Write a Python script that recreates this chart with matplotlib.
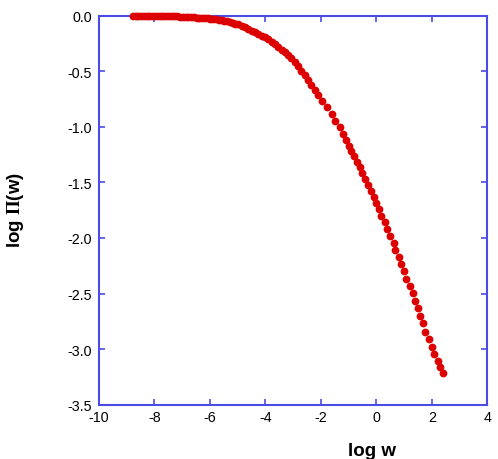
import matplotlib
matplotlib.use("Agg")
import matplotlib.pyplot as plt

plt.rcParams['font.family'] = ['Liberation Sans', 'DejaVu Sans']
plt.rcParams['mathtext.fontset'] = 'stix'
plt.rcParams['axes.unicode_minus'] = False

# log w values of the points
log_w = [
    -8.78, -8.68, -8.58, -8.48, -8.38, -8.28, -8.18, -8.08, -7.98, -7.88,
    -7.78, -7.68, -7.58, -7.48, -7.38, -7.28, -7.18, -7.08, -6.98, -6.88,
    -6.78, -6.68, -6.58, -6.48, -6.38, -6.28, -6.18, -6.08, -5.98, -5.88,
    -5.78, -5.68, -5.58, -5.48, -5.38, -5.28, -5.18, -5.08, -4.98,
    -4.86, -4.74, -4.62, -4.50, -4.38, -4.26, -4.14, -4.02, -3.90, -3.78,
    -3.66, -3.54, -3.42, -3.30, -3.18, -3.06, -2.94, -2.82, -2.70, -2.58,
    -2.46, -2.34, -2.22, -2.10,
    -1.954, -1.775, -1.595, -1.475, -1.319, -1.199, -1.079, -0.995, -0.899,
    -0.791, -0.695, -0.600, -0.516, -0.396, -0.312, -0.192, -0.096, 0.000,
    0.108, 0.180, 0.300, 0.384, 0.504, 0.624, 0.683, 0.803, 0.887, 1.007,
    1.079, 1.199, 1.307, 1.379, 1.487, 1.559, 1.679, 1.763, 1.895, 2.003,
    2.086, 2.206, 2.278, 2.398,
]

# log Pi(w) values of the points
log_pi = [
    0.000, 0.000, -0.001, -0.001, -0.001, -0.001, -0.002, -0.002, -0.002, -0.003,
    -0.004, -0.004, -0.005, -0.006, -0.007, -0.008, -0.008, -0.009, -0.010, -0.012,
    -0.013, -0.015, -0.017, -0.018, -0.020, -0.022, -0.024, -0.026, -0.028, -0.031,
    -0.034, -0.038, -0.042, -0.046, -0.052, -0.058, -0.065, -0.072, -0.080,
    -0.092, -0.105, -0.120, -0.135, -0.150, -0.165, -0.181, -0.197, -0.215, -0.236,
    -0.258, -0.282, -0.306, -0.332, -0.358, -0.385, -0.418, -0.457, -0.497, -0.538,
    -0.580, -0.622, -0.666, -0.712,
    -0.766, -0.826, -0.886, -0.946, -1.006, -1.066, -1.117, -1.171, -1.216,
    -1.267, -1.314, -1.365, -1.416, -1.470, -1.524, -1.575, -1.629, -1.686,
    -1.740, -1.800, -1.860, -1.920, -1.980, -2.046, -2.106, -2.175, -2.235, -2.301,
    -2.370, -2.436, -2.496, -2.565, -2.630, -2.699, -2.765, -2.843, -2.909, -2.984,
    -3.044, -3.110, -3.164, -3.215,
]

x_ticks = [-10, -8, -6, -4, -2, 0, 2, 4]
x_tick_labels = ['-10', '-8', '-6', '-4', '-2', '0', '2', '4']
y_ticks = [-3.5, -3.0, -2.5, -2.0, -1.5, -1.0, -0.5, 0.0]
y_tick_labels = ['-3.5', '-3.0', '-2.5', '-2.0', '-1.5', '-1.0', '-0.5', '0.0']

frame_color = '#4b4be6'
dot_color = '#dd0000'

fig = plt.figure(figsize=(4.98, 4.60), dpi=100)
ax = fig.add_axes([99 / 498, 1 - 405.7 / 460, 388.3 / 498, 389.2 / 460])

ax.plot(log_w, log_pi, linestyle='none', marker='o', markersize=5.6,
        color=dot_color, markeredgewidth=0, clip_on=False, zorder=5)

ax.set_xlim(-10, 4)
ax.set_ylim(-3.5, 0)
ax.set_xticks(x_ticks)
ax.set_xticklabels(x_tick_labels)
ax.set_yticks(y_ticks)
ax.set_yticklabels(y_tick_labels)

for s in ax.spines.values():
    s.set_color(frame_color)
    s.set_linewidth(1.5)

ax.tick_params(axis='both', which='major', direction='in', length=4,
               width=1.2, color=frame_color, labelsize=10.3,
               top=True, right=True, labelcolor='black')
ax.tick_params(axis='x', pad=4.0)
ax.tick_params(axis='y', pad=5.0)

fig.text(372 / 498, 1 - 452 / 460, 'log w', ha='center', va='center',
         fontsize=13.5, fontweight='bold')
fig.text(15 / 498, 1 - 210 / 460, r'log $\mathbf{\Pi}$(w)', ha='center',
         va='center', rotation=90, fontsize=13.5, fontweight='bold')

fig.savefig('out.png', dpi=100)
